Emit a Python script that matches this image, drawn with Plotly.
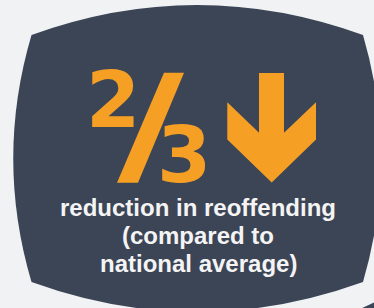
import plotly.graph_objects as go

# ---- values / text ----
numerator = 2
denominator = 3
caption_lines = ["reduction in reoffending", "(compared to", "national average)"]

# ---- colours ----
BG = "#F1F2F4"
SLATE = "#3C4556"
ORANGE = "#F5A024"
WHITE = "#F4F4F4"

W, H = 374, 308

fig = go.Figure()

# badge outline (bulging rectangle)
badge = "M 31.5,35 Q 197,-25 363,35 Q 399,158.5 363,282 Q 197,342 31.5,282 Q -5,158.5 31.5,35 Z"
# neighbouring tile peeking in bottom-right corner
tile = "M 358,310 L 378,300.5 L 378,310 Z"
# fraction slash
slash = "M 117,182.7 L 138,182.7 L 184,72.7 L 164,72.7 Z"
# down arrow
arrow = ("M 259,73 L 284,73 L 284,132.7 L 316,102.3 L 316,139.5 L 271.7,182.5 "
         "L 227.3,139.5 L 227.3,102.3 L 259,132.7 Z")

shapes = [
    dict(type="path", path=badge, fillcolor=SLATE, line=dict(width=0), xref="x", yref="y", layer="below"),
    dict(type="path", path=tile, fillcolor=SLATE, line=dict(width=0), xref="x", yref="y", layer="below"),
    dict(type="path", path=slash, fillcolor=ORANGE, line=dict(width=0), xref="x", yref="y"),
    dict(type="path", path=arrow, fillcolor=ORANGE, line=dict(width=0), xref="x", yref="y"),
]

annotations = [
    dict(x=113, y=100, text=str(numerator), showarrow=False, xref="x", yref="y",
         xanchor="center", yanchor="middle",
         font=dict(family="DejaVu Sans", size=78, color=ORANGE, weight="bold")),
    dict(x=183.5, y=154.5, text=str(denominator), showarrow=False, xref="x", yref="y",
         xanchor="center", yanchor="middle",
         font=dict(family="DejaVu Sans", size=78, color=ORANGE, weight="bold")),
]
line_y = [207.5, 235.5, 263.5]
for txt, yy in zip(caption_lines, line_y):
    annotations.append(dict(x=198, y=yy, text=txt, showarrow=False, xref="x", yref="y",
                            xanchor="center", yanchor="middle",
                            font=dict(family="Liberation Sans", size=24, color=WHITE, weight="bold")))

fig.update_layout(
    width=W, height=H,
    margin=dict(l=0, r=0, t=0, b=0),
    paper_bgcolor=BG, plot_bgcolor=BG,
    xaxis=dict(range=[0, W], visible=False, fixedrange=True),
    yaxis=dict(range=[H, 0], visible=False, fixedrange=True),
    shapes=shapes, annotations=annotations, showlegend=False,
)

fig.write_html("out.html", config={"displayModeBar": False},
               post_script="document.body.style.margin='0';document.body.style.background='%s';" % BG)
